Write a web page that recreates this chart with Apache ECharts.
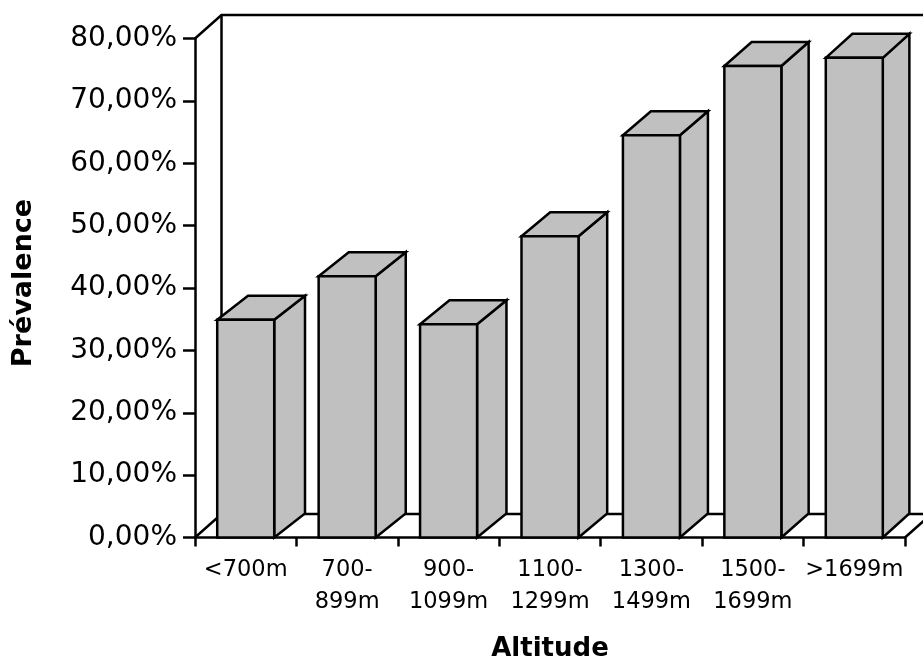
<!DOCTYPE html>
<html>
<head>
<meta charset="utf-8">
<script src="https://cdn.jsdelivr.net/npm/echarts@6/dist/echarts.min.js"></script>
<style>
html,body{margin:0;padding:0;background:#fff;}
#chart{width:923px;height:662px;}
</style>
</head>
<body>
<div id="chart"></div>
<script>
// ---- data ----
var categories = ['<700m', '700-899m', '900-1099m', '1100-1299m', '1300-1499m', '1500-1699m', '>1699m'];
var prevalence = [34.9, 41.9, 34.2, 48.3, 64.5, 75.6, 76.9];
var yTicks = [0, 10, 20, 30, 40, 50, 60, 70, 80];
var xTitle = 'Altitude';
var yTitle = 'Prévalence';

var FONT = '"DejaVu Sans", Verdana, sans-serif';
var GRAY = '#C0C0C0';
var LINE = '#000000';
var LW = 2.5;

var chart = echarts.init(document.getElementById('chart'), null, {renderer: 'canvas'});

function barDepthX(xr) { return 30.8 - 0.0069 * (xr - 273); }
var BAR_DY = -24;
var WALL_DX = 26.5, WALL_DY = -23.5;

var option = {
  backgroundColor: '#ffffff',
  animation: false,
  grid: {left: 195, right: 18, top: 38.5, bottom: 124.5, containLabel: false, outerBoundsMode: 'none'},
  xAxis: {
    type: 'category',
    data: categories,
    boundaryGap: true,
    name: xTitle,
    nameLocation: 'middle',
    nameGap: 99,
    nameTextStyle: {fontFamily: FONT, fontSize: 26, fontWeight: 'bold', color: '#000'},
    axisLine: {show: true, lineStyle: {color: LINE, width: LW}},
    axisTick: {show: true, length: 9, lineStyle: {color: LINE, width: LW}},
    axisLabel: {
      fontFamily: FONT, fontSize: 22.5, color: '#000', margin: 17, lineHeight: 32,
      interval: 0,
      formatter: function (v) { return v.replace(/^(\d+-)/, '$1\n'); }
    },
    splitLine: {show: false}
  },
  yAxis: {
    type: 'value',
    min: yTicks[0],
    max: yTicks[yTicks.length - 1],
    interval: yTicks[1] - yTicks[0],
    name: yTitle,
    nameLocation: 'middle',
    nameGap: 158,
    nameRotate: 90,
    nameTextStyle: {fontFamily: FONT, fontSize: 27, fontWeight: 'bold', color: '#000', padding: [0, 0, 0, 10]},
    axisLine: {show: true, lineStyle: {color: LINE, width: LW}},
    axisTick: {show: true, length: 12, lineStyle: {color: LINE, width: LW}},
    axisLabel: {
      fontFamily: FONT, fontSize: 28, color: '#000', margin: 18,
      formatter: function (v) { return v.toFixed(2).replace('.', ',') + '%'; }
    },
    splitLine: {show: false}
  },
  series: [
    {
      // back wall + floor frame
      type: 'custom',
      clip: false,
      silent: true,
      z: 1,
      data: [[0, 0]],
      renderItem: function (params, api) {
        var cs = params.coordSys;
        var x0 = cs.x, x1 = cs.x + cs.width, yt = cs.y, yb = cs.y + cs.height;
        var ls = {stroke: LINE, lineWidth: LW, fill: null};
        return {
          type: 'group',
          children: [
            {type: 'polyline', shape: {points: [[x0, yt], [x0 + WALL_DX, yt + WALL_DY], [x1 + WALL_DX, yt + WALL_DY]]}, style: ls},
            {type: 'line', shape: {x1: x0 + WALL_DX, y1: yt + WALL_DY, x2: x0 + WALL_DX, y2: yb + WALL_DY}, style: ls},
            {type: 'polyline', shape: {points: [[x0, yb], [x0 + WALL_DX, yb + WALL_DY], [x1 + WALL_DX, yb + WALL_DY]]}, style: ls},
            {type: 'line', shape: {x1: x1, y1: yb, x2: x1 + WALL_DX, y2: yb + WALL_DY}, style: ls},
            {type: 'line', shape: {x1: x1 + WALL_DX, y1: yt + WALL_DY, x2: x1 + WALL_DX, y2: yb + WALL_DY}, style: ls}
          ]
        };
      }
    },
    {
      type: 'custom',
      clip: false,
      z: 3,
      encode: {x: 0, y: 1},
      data: prevalence.map(function (v, i) { return [i, v]; }),
      renderItem: function (params, api) {
        var top = api.coord([api.value(0), api.value(1)]);
        var bot = api.coord([api.value(0), 0]);
        var band = api.size([1, 0])[0];
        var w = band * 0.562;
        var xl = top[0] - w / 2, xr = top[0] + w / 2;
        var yt = top[1], yb = bot[1];
        var dx = barDepthX(xr), dy = BAR_DY;
        var st = {fill: GRAY, stroke: LINE, lineWidth: LW, lineJoin: 'miter'};
        return {
          type: 'group',
          children: [
            {type: 'polygon', shape: {points: [[xr, yb], [xr + dx, yb + dy], [xr + dx, yt + dy], [xr, yt]]}, style: st},
            {type: 'polygon', shape: {points: [[xl, yt], [xl + dx, yt + dy], [xr + dx, yt + dy], [xr, yt]]}, style: st},
            {type: 'rect', shape: {x: xl, y: yt, width: w, height: yb - yt}, style: st}
          ]
        };
      }
    }
  ]
};
chart.setOption(option);
</script>
</body>
</html>
